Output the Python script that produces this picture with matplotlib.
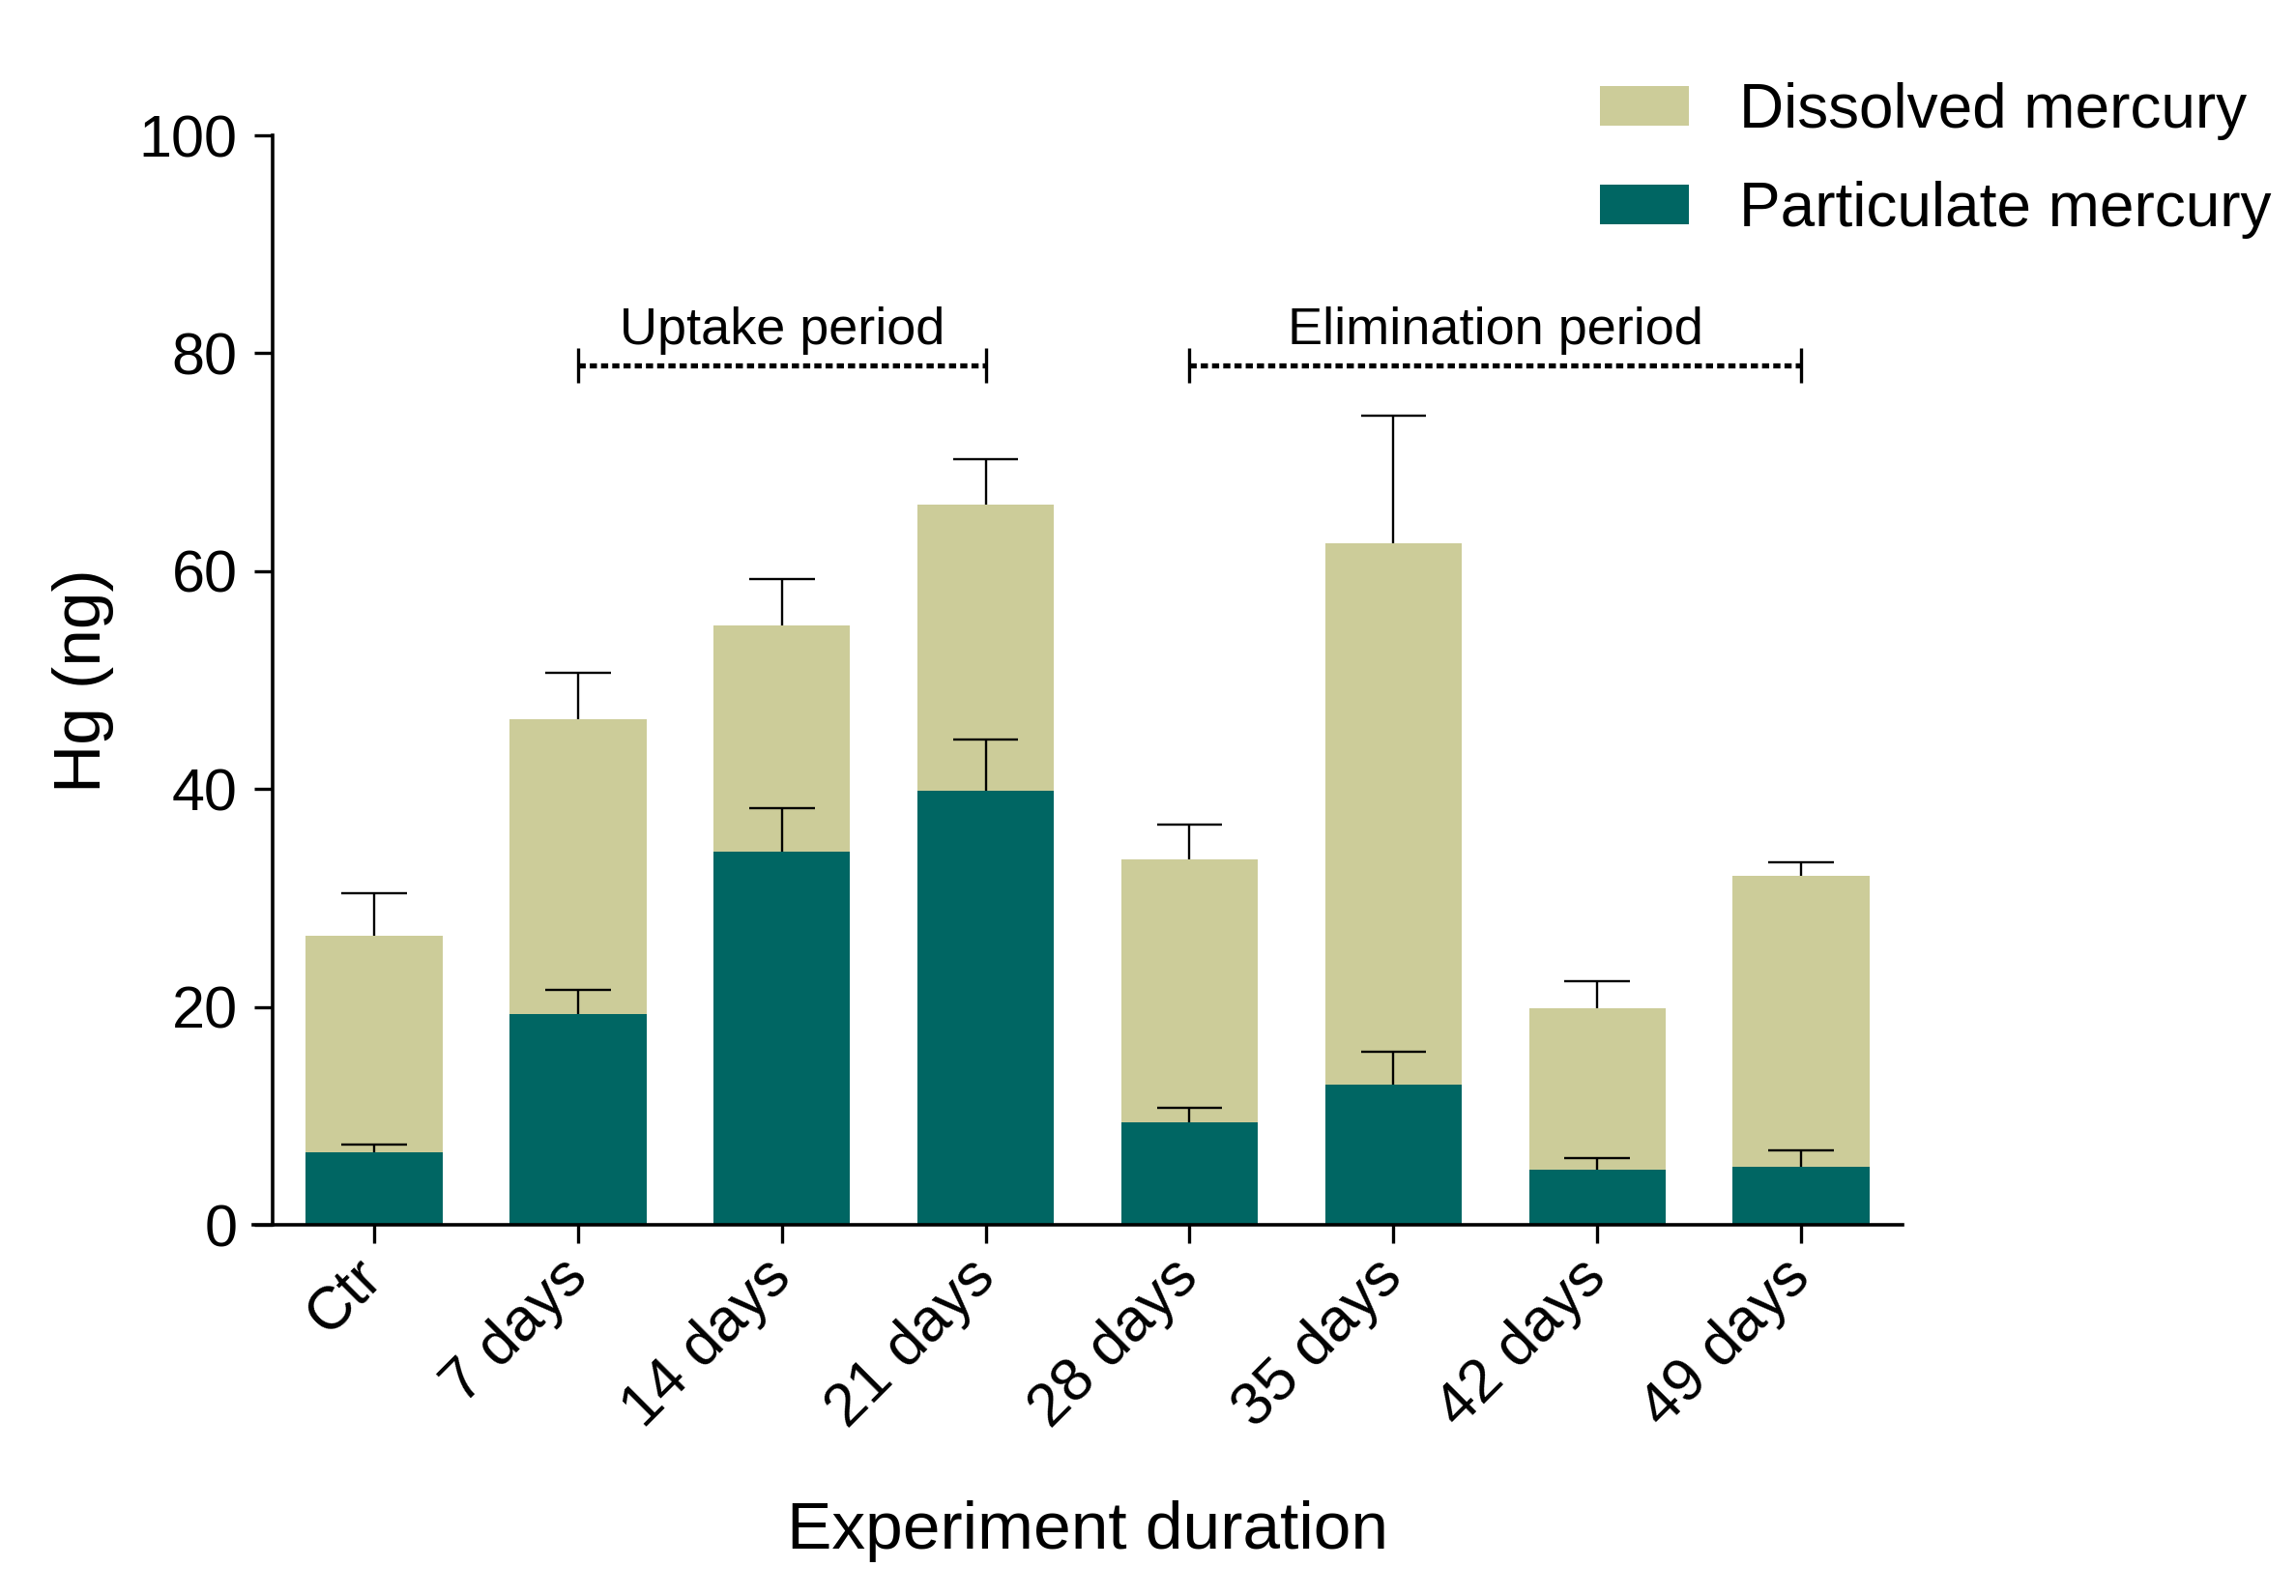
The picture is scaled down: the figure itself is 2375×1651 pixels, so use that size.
import matplotlib
matplotlib.use("Agg")
import matplotlib.pyplot as plt
import numpy as np
from matplotlib.patches import Patch

plt.rcParams['font.family'] = ['Liberation Sans', 'DejaVu Sans']

categories = ['Ctr', '7 days', '14 days', '21 days', '28 days', '35 days', '42 days', '49 days']
particulate = [6.7, 19.4, 34.3, 39.9, 9.4, 12.9, 5.1, 5.4]
particulate_err = [0.7, 2.2, 4.0, 4.7, 1.4, 3.0, 1.1, 1.5]
dissolved = [19.9, 27.0, 20.7, 26.2, 24.2, 49.7, 14.8, 26.7]
dissolved_err = [3.9, 4.3, 4.3, 4.2, 3.2, 11.7, 2.5, 1.2]
yticks = [0, 20, 40, 60, 80, 100]
periods = [('Uptake period', 1, 3), ('Elimination period', 4, 7)]
period_level = 78.9

col_diss = '#CCCC99'
col_part = '#006663'

fig = plt.figure(figsize=(11.875, 8.255), dpi=200)
ax = fig.add_axes([0.1186, 0.2323, 0.7102, 0.6829])

x = np.arange(len(categories))
part = np.array(particulate)
diss = np.array(dissolved)
total = part + diss
w = 0.67

ax.bar(x, part, width=w, color=col_part, linewidth=0, zorder=2)
ax.bar(x, diss, bottom=part, width=w, color=col_diss, linewidth=0, zorder=2)

cap = 0.16
lw_err = 0.85
for tops, errs in ((part, particulate_err), (total, dissolved_err)):
    errs = np.array(errs)
    ax.vlines(x, tops, tops + errs, color='black', lw=lw_err, zorder=3)
    ax.hlines(tops + errs, x - cap, x + cap, color='black', lw=lw_err, zorder=3)

# period annotations
for label, i0, i1 in periods:
    ax.plot([x[i0], x[i1]], [period_level, period_level], color='black', lw=1.9,
            linestyle=(0, (1.4, 0.8)), zorder=3)
    ax.vlines([x[i0], x[i1]], period_level - 1.6, period_level + 1.6, color='black', lw=1.2, zorder=3)
    ax.text((x[i0] + x[i1]) / 2, period_level + 1.0, label, ha='center', va='bottom', fontsize=19.5)

ax.set_xlim(-0.5, 7.5)
ax.set_ylim(0, 100)
ax.set_yticks(yticks)
ax.set_yticklabels([str(t) for t in yticks], fontsize=22)
ax.set_xticks(x)
ax.set_xticklabels(categories, fontsize=22.5, rotation=45, ha='right', va='center',
                   rotation_mode='anchor')
ax.tick_params(axis='both', direction='out', length=7, width=1.2, color='black')
ax.tick_params(axis='x', pad=9)
ax.tick_params(axis='y', pad=6)

for s in ('top', 'right'):
    ax.spines[s].set_visible(False)
for s in ('left', 'bottom'):
    ax.spines[s].set_linewidth(1.3)
ax.spines['bottom'].set_bounds(-0.593, 7.5)

ax.set_ylabel('Hg (ng)', fontsize=25)
ax.yaxis.set_label_coords(-0.097, 0.5)
ax.set_xlabel('Experiment duration', fontsize=25)
ax.xaxis.set_label_coords(0.5, -0.252)

handles = [Patch(facecolor=col_diss, edgecolor='none', label='Dissolved mercury'),
           Patch(facecolor=col_part, edgecolor='none', label='Particulate mercury')]
fig.legend(handles=handles, loc='upper left', bbox_to_anchor=(0.686, 0.964),
           frameon=False, fontsize=23, handlelength=1.45, handleheight=0.6,
           handletextpad=0.8, labelspacing=0.66, borderaxespad=0)

fig.savefig('out.png', dpi=200)
